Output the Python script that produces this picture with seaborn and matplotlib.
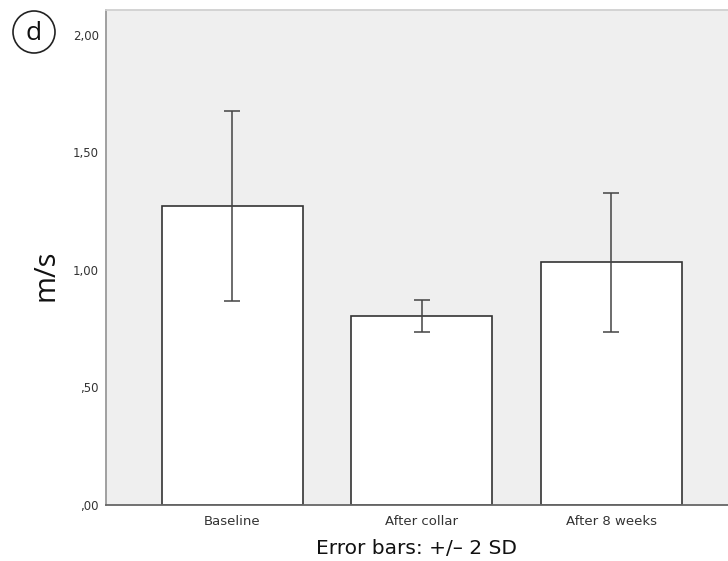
import numpy as np
import pandas as pd
import seaborn as sns
import matplotlib.pyplot as plt
from matplotlib.patches import Circle

# values (mean speed and 2 SD)
groups = ["Baseline", "After collar", "After 8 weeks"]
means = [1.273, 0.803, 1.033]
two_sd = [0.405, 0.069, 0.296]
yticks = [0.0, 0.5, 1.0, 1.5, 2.0]
ytick_labels = [",00", ",50", "1,00", "1,50", "2,00"]

df = pd.DataFrame({"group": groups, "speed": means})

sns.set_style("white")
plt.rcParams["font.family"] = ["DejaVu Sans"]

fig = plt.figure(figsize=(7.28, 5.61), dpi=100)
ax = fig.add_axes([0.1456, 0.0998, 0.8544, 0.8824])
ax.set_facecolor("#efefef")

sns.barplot(data=df, x="group", y="speed", color="white", edgecolor="#333333",
            linewidth=1.2, width=0.744, errorbar=None, ax=ax)

ax.errorbar(np.arange(len(groups)), means, yerr=two_sd, fmt="none",
            ecolor="#444444", elinewidth=1.1, capsize=6, capthick=1.1, zorder=5)

ax.set_xlim(-0.665, 2.617)
ax.set_ylim(0, 2.106)
ax.set_yticks(yticks)
ax.set_yticklabels(ytick_labels)
ax.tick_params(axis="both", length=3, width=0.8)
ax.tick_params(axis="x", labelsize=9.5, pad=4, colors="#888888", labelcolor="#333333")
ax.tick_params(axis="y", labelsize=8.5, pad=2, colors="#888888", labelcolor="#333333")

ax.set_xlabel("Error bars: +/\u2013 2 SD", fontsize=14.5, color="#111111", labelpad=8)
ax.set_ylabel("")
fig.text(46 / 728, 1 - 275 / 561, "m/s", fontsize=21, rotation=90,
         ha="center", va="center", color="#111111", family="Open Sans")

for side in ["left", "bottom"]:
    ax.spines[side].set_color("#999999")
    ax.spines[side].set_linewidth(1.3)
ax.spines["bottom"].set_color("#666666")
ax.spines["top"].set_color("#d0d0d0")
ax.spines["top"].set_linewidth(1.3)
ax.spines["right"].set_visible(False)

# panel label
fig.patches.append(Circle((34, 561 - 32), 21, transform=None, fill=False,
                          edgecolor="#222222", linewidth=1.2))
fig.text(34 / 728, 1 - 33 / 561, "d", fontsize=19, ha="center", va="center",
         color="#111111", family="Open Sans")

fig.savefig("out.png", dpi=100)
